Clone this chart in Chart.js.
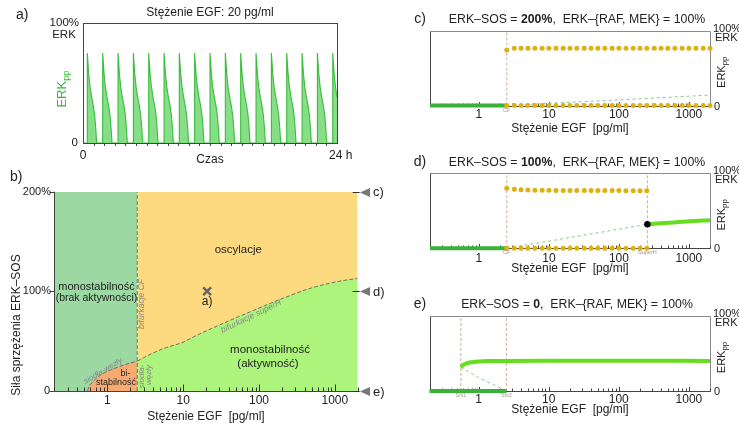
<!DOCTYPE html>
<html><head><meta charset="utf-8">
<script src="https://cdn.jsdelivr.net/npm/chart.js@4.4.1/dist/chart.umd.min.js"></script>
<style>
html,body{margin:0;padding:0;background:#fff;width:739px;height:427px;overflow:hidden;position:relative}
canvas{position:absolute}
</style></head><body>
<canvas id="ca" width="370" height="170" style="left:0;top:0"></canvas>
<canvas id="cb" width="400" height="257" style="left:0;top:170px"></canvas>
<canvas id="cc" width="369" height="140" style="left:370px;top:0"></canvas>
<canvas id="cd" width="369" height="140" style="left:370px;top:140px"></canvas>
<canvas id="ce" width="369" height="147" style="left:370px;top:280px"></canvas>
<script>
// ---------- DATA ----------
// panel a: time course (hours) of ERKpp (% of ERK)
const pulseTimesH = [0.41, 1.86, 3.31, 4.76, 6.21, 7.66, 9.10, 10.55, 12.00, 13.45, 14.90, 16.35, 17.80, 19.25, 20.70, 22.15, 23.60];
const pulseOffsetH = [0, 0.126, 0.252, 0.41, 0.567, 0.693, 0.788, 0.882];
const pulseERK = [75, 58, 47, 38, 31, 23, 13, 0];

// panel b: phase diagram, EGF [pg/ml] vs ERK-SOS coupling [%]
const cfEGF = 2.48;
const superH_EGF = [2.48, 3.5, 5.6, 10, 15.2, 34, 77, 191, 473, 1066, 2000];
const superH_SOS = [30, 36, 42.8, 49, 56, 68, 79.6, 92, 103, 109.7, 113];
const sn_EGF = [0.55, 0.57, 0.62, 0.7, 0.85, 1.1, 1.5, 2.0, 2.48];
const sn_SOS = [0, 4, 8, 12, 17, 21, 25, 28, 30];
const markEGF = 20.7, markSOS = 100;

// panels c-e: bifurcation diagrams
const egfGrid = [2.5, 3.2, 4, 5, 6.3, 8, 10, 12.6, 16, 20, 25, 32, 40, 50, 63, 80, 100, 126, 160, 200, 250, 320, 400, 500, 630, 800, 1000, 1260, 1600, 2000];
const cOscMax = [74.5, 77, 77, 77, 77, 77, 77, 77, 77, 77, 77, 77, 77, 77, 77, 77, 77, 77, 77, 77, 77, 77, 77, 77, 77, 77, 77, 77, 77, 77];
const cOscMin = [0, 0, 0, 0, 0, 0, 0, 0, 0, 0, 0, 0, 0, 0, 0, 0, 0, 0, 0, 0, 0, 0, 0, 0, 0, 0, 0, 0, 0, 0];
const cUnstEGF = [2.5, 10, 100, 1000, 2000];
const cUnstERK = [0, 3, 7.5, 12.5, 14];
const dOscEGF = [2.5, 3.2, 4, 5, 6.3, 8, 10, 12.6, 16, 20, 25, 32, 40, 50, 63, 80, 100, 126, 160, 200, 250];
const dOscMax = [80, 78.7, 78, 77.7, 77.5, 77.4, 77.3, 77.2, 77.2, 77.1, 77, 77, 77, 77, 77, 77, 77, 76.9, 76.9, 76.9, 76.9];
const dOscMin = [0, 0, 0, 0, 0, 0, 0, 0, 0, 0, 0, 0, 0, 0, 0, 0, 0, 0, 0, 0, 0];
const superH_d = 255;
const dUnstEGF = [2.5, 255];
const dUnstERK = [0, 32];
const dHighEGF = [255, 400, 664, 1000, 2000];
const dHighERK = [32, 33.5, 34.7, 36, 37.5];
const sn1 = 0.56, sn2 = 2.5;
const eHighEGF = [0.56, 0.6, 0.68, 0.78, 1.0, 1.34, 10, 100, 2000];
const eHighERK = [31.6, 34.5, 37, 38.3, 39.4, 40, 40.5, 40.5, 40];
const eUnstEGF = [0.56, 1, 2.5];
const eUnstERK = [31.6, 18, 0];
const xTickVals = [1, 10, 100, 1000];

// ---------- helpers ----------
const FONT = "'Liberation Sans', Arial, sans-serif";
const pts = (xs, ys) => xs.map((x, i) => ({x, y: ys[i]}));
function T(ctx, s, x, y, o = {}) {
  ctx.save();
  ctx.font = `${o.italic ? 'italic ' : ''}${o.bold ? 'bold ' : ''}${o.size || 12}px ${FONT}`;
  ctx.fillStyle = o.color || '#222';
  ctx.textAlign = o.align || 'center';
  ctx.textBaseline = o.base || 'middle';
  ctx.translate(x, y);
  if (o.rot) ctx.rotate(o.rot);
  ctx.fillText(s, 0, 0);
  ctx.restore();
}
function rich(ctx, segs, cx, y, size) {
  ctx.save();
  ctx.textBaseline = 'middle'; ctx.fillStyle = '#222'; ctx.textAlign = 'left';
  let w = 0;
  segs.forEach(s => { ctx.font = `${s[1] ? 'bold ' : ''}${size}px ${FONT}`; w += ctx.measureText(s[0]).width; });
  let x = cx - w / 2;
  segs.forEach(s => { ctx.font = `${s[1] ? 'bold ' : ''}${size}px ${FONT}`; ctx.fillText(s[0], x, y); x += ctx.measureText(s[0]).width; });
  ctx.restore();
}
function erkpp(ctx, cx, cy, size, color) {
  ctx.save();
  ctx.fillStyle = color; ctx.textBaseline = 'middle'; ctx.textAlign = 'left';
  ctx.font = `${size}px ${FONT}`; const w1 = ctx.measureText('ERK').width;
  ctx.font = `${size * 0.72}px ${FONT}`; const w2 = ctx.measureText('pp').width;
  ctx.translate(cx, cy); ctx.rotate(-Math.PI / 2);
  const x0 = -(w1 + w2) / 2;
  ctx.font = `${size}px ${FONT}`; ctx.fillText('ERK', x0, 0);
  ctx.font = `${size * 0.72}px ${FONT}`; ctx.fillText('pp', x0 + w1, size * 0.32);
  ctx.restore();
}
function logTicks(ctx, sx, yPix, dir, majorLen, minorLen, color) {
  ctx.save(); ctx.strokeStyle = color; ctx.lineWidth = 1; ctx.beginPath();
  for (let e = -1; e <= 3; e++) for (let m = 1; m <= 9; m++) {
    const v = m * Math.pow(10, e);
    if (v < sx.min - 1e-9 || v > sx.max + 1e-9) continue;
    const x = Math.round(sx.getPixelForValue(v)) + 0.5;
    const len = m === 1 ? majorLen : minorLen;
    ctx.moveTo(x, yPix); ctx.lineTo(x, yPix + dir * len);
  }
  ctx.stroke(); ctx.restore();
}
function line(ctx, x1, y1, x2, y2, color, w) {
  ctx.save(); ctx.strokeStyle = color; ctx.lineWidth = w || 1;
  ctx.beginPath(); ctx.moveTo(x1, y1); ctx.lineTo(x2, y2); ctx.stroke(); ctx.restore();
}
const base = {
  responsive: false, animation: false, events: [],
  plugins: { legend: { display: false }, tooltip: { enabled: false } }
};

// ---------- panel a ----------
const aData = [{x: 0, y: 0}];
pulseTimesH.forEach(t => {
  aData.push({x: t, y: 0});
  pulseOffsetH.forEach((d, i) => aData.push({x: t + d, y: pulseERK[i]}));
});
new Chart(document.getElementById('ca'), {
  type: 'line',
  data: { datasets: [{ data: aData, borderColor: '#3cbc3c', borderWidth: 1.1, backgroundColor: 'rgba(128,220,128,0.95)', fill: 'origin', pointRadius: 0, tension: 0 }] },
  options: Object.assign({}, base, {
    layout: { padding: { left: 83, right: 33, top: 23, bottom: 27 } },
    scales: { x: { type: 'linear', min: 0, max: 24, display: false }, y: { min: 0, max: 100, display: false } }
  }),
  plugins: [{
    id: 'pa',
    afterDatasetsDraw(c) {
      const ctx = c.ctx, a = c.chartArea, sx = c.scales.x;
      ctx.save(); ctx.strokeStyle = '#444'; ctx.lineWidth = 1;
      ctx.strokeRect(Math.round(a.left) + 0.5, Math.round(a.top) + 0.5, Math.round(a.right - a.left), Math.round(a.bottom - a.top));
      ctx.restore();
      ctx.save(); ctx.strokeStyle = '#444'; ctx.beginPath();
      for (let h = 1; h < 24; h++) { const x = Math.round(sx.getPixelForValue(h)) + 0.5; ctx.moveTo(x, a.bottom); ctx.lineTo(x, a.bottom + 3); }
      ctx.stroke(); ctx.restore();
      T(ctx, 'a)', 16, 15, { size: 14, align: 'left' });
      T(ctx, 'Stężenie EGF: 20 pg/ml', 210, 13, { size: 12 });
      T(ctx, '100%', 79, 22.5, { size: 11.5, align: 'right' });
      T(ctx, 'ERK', 64, 35, { size: 11.5 });
      T(ctx, '0', 78, 143, { size: 11.5, align: 'right' });
      erkpp(ctx, 62, 89, 13, '#33bb33');
      T(ctx, '0', sx.getPixelForValue(0), 156, { size: 12 });
      T(ctx, '24 h', sx.getPixelForValue(24) - 8, 156, { size: 12, align: 'left' });
      T(ctx, 'Czas', 210, 160, { size: 12 });
    }
  }]
});

// ---------- panel b ----------
const logX = { type: 'logarithmic', min: 0.2, max: 2000, display: false };
const grayDash = { borderColor: 'rgba(95,95,95,0.85)', borderWidth: 1, borderDash: [4, 2], pointRadius: 0, fill: false, order: 1 };
new Chart(document.getElementById('cb'), {
  type: 'line',
  data: { datasets: [
    { data: [{x: markEGF, y: markSOS}], showLine: false, pointStyle: 'crossRot', pointRadius: 5.5, borderColor: '#666', borderWidth: 2.5, order: 0, clip: false },
    Object.assign({ data: [{x: cfEGF, y: 0}, {x: cfEGF, y: 200}] }, grayDash),
    Object.assign({ data: pts(sn_EGF, sn_SOS), cubicInterpolationMode: 'monotone' }, grayDash),
    Object.assign({ data: pts(superH_EGF, superH_SOS), cubicInterpolationMode: 'monotone' }, grayDash),
    { data: pts(sn_EGF, sn_SOS), cubicInterpolationMode: 'monotone', borderWidth: 0, pointRadius: 0, fill: 'origin', backgroundColor: '#f5ab72', order: 5 },
    { data: [{x: 0.2, y: 200}, {x: cfEGF, y: 200}], borderWidth: 0, pointRadius: 0, fill: 'origin', backgroundColor: '#9bd8a2', order: 6 },
    { data: pts(superH_EGF, superH_SOS), cubicInterpolationMode: 'monotone', borderWidth: 0, pointRadius: 0, fill: 'origin', backgroundColor: '#acf47c', order: 7 },
    { data: [{x: cfEGF, y: 200}, {x: 2000, y: 200}], borderWidth: 0, pointRadius: 0, fill: 'origin', backgroundColor: '#fdd97f', order: 8 }
  ] },
  options: Object.assign({}, base, {
    layout: { padding: { left: 54.3, right: 42.3, top: 21.7, bottom: 36 } },
    scales: { x: logX, y: { min: 0, max: 200, display: false } }
  }),
  plugins: [{
    id: 'pb',
    afterDatasetsDraw(c) {
      const ctx = c.ctx, a = c.chartArea, sx = c.scales.x, sy = c.scales.y;
      const L = Math.round(a.left) + 0.5, B = Math.round(a.bottom) + 0.5;
      line(ctx, L, a.top, L, B, '#444');
      line(ctx, L, B, a.right, B, '#444');
      logTicks(ctx, sx, B, -1, 7, 4, '#333');
      [0, 100, 200].forEach(v => {
        const y = Math.round(sy.getPixelForValue(v)) + 0.5;
        line(ctx, L - 5, y, L, y, '#444');
        line(ctx, a.right - 5, y, a.right + 2, y, '#333');
        ctx.save(); ctx.fillStyle = '#777'; ctx.beginPath();
        ctx.moveTo(360, y); ctx.lineTo(370, y - 4.5); ctx.lineTo(370, y + 4.5); ctx.closePath(); ctx.fill(); ctx.restore();
      });
      T(ctx, 'c)', 373, sy.getPixelForValue(200) + 1, { size: 13, align: 'left' });
      T(ctx, 'd)', 373, sy.getPixelForValue(100) + 1, { size: 13, align: 'left' });
      T(ctx, 'e)', 373, sy.getPixelForValue(0) + 1, { size: 13, align: 'left' });
      T(ctx, 'b)', 10, 7, { size: 14, align: 'left' });
      T(ctx, '200%', 51, sy.getPixelForValue(200), { size: 11, align: 'right' });
      T(ctx, '100%', 51, sy.getPixelForValue(100), { size: 11, align: 'right' });
      T(ctx, '0', 50, sy.getPixelForValue(0), { size: 11, align: 'right' });
      T(ctx, 'Siła sprzężenia ERK–SOS', 17, 155, { size: 12, rot: -Math.PI / 2 });
      xTickVals.forEach(v => T(ctx, String(v), sx.getPixelForValue(v), 231, { size: 12 }));
      T(ctx, 'Stężenie EGF  [pg/ml]', 206, 246.5, { size: 12 });
      T(ctx, 'monostabilność', 96.5, 116.5, { size: 11 });
      T(ctx, '(brak aktywności)', 96.5, 128.5, { size: 10.5 });
      T(ctx, 'oscylacje', 238.3, 80, { size: 11.5 });
      T(ctx, 'monostabilność', 270, 180, { size: 11.5 });
      T(ctx, '(aktywność)', 268, 193.5, { size: 11.5 });
      T(ctx, 'bi-', 125.5, 204, { size: 9 });
      T(ctx, 'stabilność', 116, 212.5, { size: 9 });
      T(ctx, 'a)', sx.getPixelForValue(markEGF), 132, { size: 12 });
      const g = '#8a8a8a';
      T(ctx, 'bifurkacje CF', 142, 134, { size: 8.5, italic: true, color: g, rot: -Math.PI / 2 });
      T(ctx, 'bifurkacje superH', 251, 146.5, { size: 8.5, italic: true, color: g, rot: -26 * Math.PI / 180 });
      T(ctx, 'siodła-węzły', 103, 201, { size: 8, italic: true, color: g, rot: -31 * Math.PI / 180 });
      T(ctx, 'siodła-', 141.5, 206.5, { size: 8, italic: true, color: g, rot: -Math.PI / 2 });
      T(ctx, 'węzły', 148.5, 205, { size: 8, italic: true, color: g, rot: -Math.PI / 2 });
    }
  }]
});

// ---------- panels c, d, e ----------
const GREEN = '#3ab23a', LIME = '#64de1e', GOLD = '#dcb016', UNST = '#8cc88c', TAN = '#cfae98';
const baseLine = { data: [{x: 0.2, y: 0}, {x: 2.5, y: 0}], borderColor: GREEN, borderWidth: 4, pointRadius: 0, order: 2, clip: false };
const dots = (xs, ys) => ({ data: pts(xs, ys), showLine: false, pointRadius: 2.5, pointBackgroundColor: GOLD, pointBorderWidth: 0, order: 0, clip: false });
const vline = x => ({ data: [{x, y: 0}, {x, y: 100}], borderColor: TAN, borderWidth: 1, borderDash: [3, 2], pointRadius: 0, order: 4 });
const unstable = (xs, ys) => ({ data: pts(xs, ys), borderColor: UNST, borderWidth: 1, borderDash: [3, 3], pointRadius: 0, order: 3 });

function rightPanel(id, pad, datasets, label, boldPart, marks, tickY, titleY) {
  new Chart(document.getElementById(id), {
    type: 'line',
    data: { datasets },
    options: Object.assign({}, base, {
      layout: { padding: pad },
      scales: { x: logX, y: { min: 0, max: 100, display: false } }
    }),
    plugins: [{
      id: 'p' + id,
      beforeDatasetsDraw(c) {
        const ctx = c.ctx, a = c.chartArea, sx = c.scales.x;
        const L = Math.round(a.left) + 0.5, R = Math.round(a.right) + 0.5, Tp = Math.round(a.top) + 0.5, B = Math.round(a.bottom) + 0.5;
        line(ctx, L, Tp, R, Tp, '#8a8a8a');
        line(ctx, R, Tp, R, B, '#8a8a8a');
        line(ctx, L, Tp, L, B, '#444');
        line(ctx, L, B, R, B, '#444');
        logTicks(ctx, sx, B, -1, 4.5, 3, '#444');
      },
      afterDraw(c) {
        const ctx = c.ctx, a = c.chartArea, sx = c.scales.x;
        T(ctx, label, 50, a.top - 11.5, { size: 14 });
        rich(ctx, [['ERK–SOS = ', false], [boldPart, true], [',  ERK–{RAF, MEK} = 100%', false]], 207, a.top - 11, 12.3);
        T(ctx, '100%', 343, a.top - 2, { size: 11, align: 'left' });
        T(ctx, 'ERK', 345, a.top + 7, { size: 11, align: 'left' });
        T(ctx, '0', 344, a.bottom + 1, { size: 11, align: 'left' });
        erkpp(ctx, 351.5, (a.top + a.bottom) / 2 + 4, 11, '#222');
        xTickVals.forEach(v => T(ctx, String(v), sx.getPixelForValue(v), tickY, { size: 12 }));
        T(ctx, 'Stężenie EGF  [pg/ml]', 200, titleY, { size: 12 });
        marks.forEach(m => T(ctx, m[0], sx.getPixelForValue(m[1]), a.bottom + 4.5, { size: 5.5, color: '#b09080' }));
      }
    }]
  });
}

rightPanel('cc', { left: 60, right: 29, top: 31, bottom: 34.5 }, [
  dots(egfGrid, cOscMax), dots(egfGrid, cOscMin), baseLine,
  unstable(cUnstEGF, cUnstERK), vline(cfEGF + 0.02)
], 'c)', '200%', [['CF', 2.5]], 115, 128.5);

rightPanel('cd', { left: 60, right: 29, top: 33.3, bottom: 31.7 }, [
  { data: [{x: superH_d, y: 32}], showLine: false, pointRadius: 3.2, pointBackgroundColor: '#000', pointBorderWidth: 0, order: -1, clip: false },
  dots(dOscEGF, dOscMax), dots(dOscEGF, dOscMin), baseLine,
  { data: pts(dHighEGF, dHighERK), borderColor: LIME, borderWidth: 4, pointRadius: 0, cubicInterpolationMode: 'monotone', order: 1, clip: false },
  unstable(dUnstEGF, dUnstERK), vline(2.5), vline(superH_d)
], 'd)', '100%', [['CF', 2.5], ['SuperH', superH_d]], 258.5 - 140, 269 - 140);

rightPanel('ce', { left: 59.5, right: 29, top: 36, bottom: 36 }, [
  baseLine,
  { data: pts(eHighEGF, eHighERK), borderColor: LIME, borderWidth: 4, pointRadius: 0, cubicInterpolationMode: 'monotone', order: 1, clip: false },
  unstable(eUnstEGF, eUnstERK), vline(sn1), vline(sn2)
], 'e)', '0', [['SN1', sn1], ['SN2', sn2]], 399.5 - 280, 410 - 280);
</script></body></html>
